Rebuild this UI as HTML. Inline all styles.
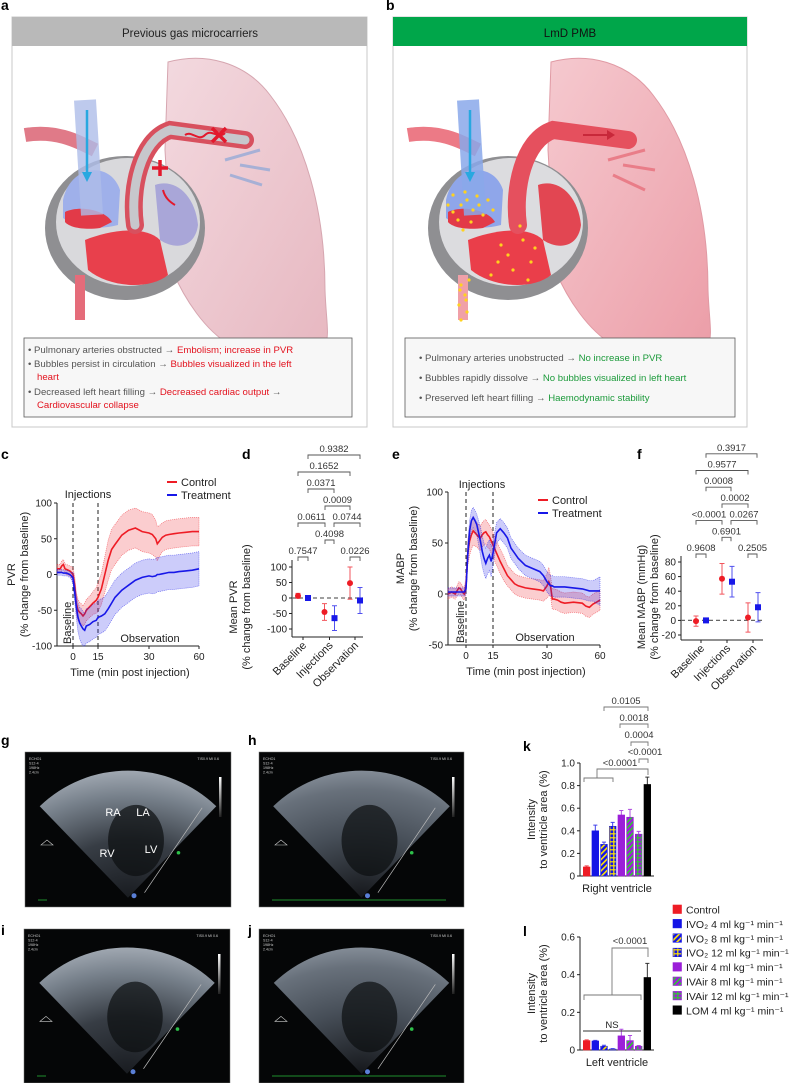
<!DOCTYPE html>
<html><head><meta charset="utf-8">
<style>
html,body{margin:0;padding:0;background:#fff;}
svg{display:block;font-family:"Liberation Sans",sans-serif;}
</style></head>
<body>
<svg id="fig" width="789" height="1083" viewBox="0 0 789 1083" xmlns="http://www.w3.org/2000/svg">
<defs>
  <pattern id="pStripeY" width="4" height="4" patternUnits="userSpaceOnUse" patternTransform="rotate(45)">
    <rect width="4" height="4" fill="#1414e6"/><rect width="1.6" height="4" fill="#ffe600"/>
  </pattern>
  <pattern id="pHashY" width="4" height="4" patternUnits="userSpaceOnUse">
    <rect width="4" height="4" fill="#1414e6"/><rect x="1.2" width="1.2" height="4" fill="#ffe600"/><rect y="1.2" width="4" height="1.2" fill="#ffe600"/>
  </pattern>
  <pattern id="pStripeG" width="4" height="4" patternUnits="userSpaceOnUse" patternTransform="rotate(45)">
    <rect width="4" height="4" fill="#9b1fd8"/><rect width="1.6" height="4" fill="#2ecc2e"/>
  </pattern>
  <pattern id="pHashG" width="4" height="4" patternUnits="userSpaceOnUse">
    <rect width="4" height="4" fill="#9b1fd8"/><rect x="1.2" width="1.2" height="4" fill="#2ecc2e"/><rect y="1.2" width="4" height="1.2" fill="#2ecc2e"/>
  </pattern>
  <radialGradient id="fanGrad" cx="0.5" cy="1" r="1">
    <stop offset="0" stop-color="#1a1d22"/>
    <stop offset="0.45" stop-color="#3a4048"/>
    <stop offset="0.8" stop-color="#7d8792"/>
    <stop offset="1" stop-color="#a8b0ba"/>
  </radialGradient>
  <radialGradient id="fanGrad2" cx="0.5" cy="1" r="1">
    <stop offset="0" stop-color="#16181c"/>
    <stop offset="0.5" stop-color="#4a525c"/>
    <stop offset="0.85" stop-color="#6d7681"/>
    <stop offset="1" stop-color="#8a939e"/>
  </radialGradient>
  <linearGradient id="scaleGrad" x1="0" y1="0" x2="0" y2="1">
    <stop offset="0" stop-color="#fff"/><stop offset="1" stop-color="#222"/>
  </linearGradient>
  <linearGradient id="lungGrad" x1="0" y1="0" x2="1" y2="1">
    <stop offset="0" stop-color="#f3d9df"/><stop offset="1" stop-color="#e7b8c1"/>
  </linearGradient>
  <linearGradient id="lungGradB" x1="0" y1="0" x2="1" y2="1">
    <stop offset="0" stop-color="#f5c9cf"/><stop offset="1" stop-color="#ec9ea8"/>
  </linearGradient>
</defs>

<!-- Panel a -->
<g>
  <text x="1" y="10" font-size="14" font-weight="bold">a</text>
  <rect x="12" y="17" width="355" height="410" fill="#fff" stroke="#c8c8c8" stroke-width="1"/>
  <rect x="12" y="17" width="355" height="29" fill="#b9b9b9"/>
  <text x="190" y="37" font-size="11.5" text-anchor="middle" fill="#222">Previous gas microcarriers</text>
  <g>
    <path d="M168,62 C205,52 245,62 270,95 C305,140 325,210 325,290 C326,320 330,335 325,345 L230,345 C205,330 185,300 172,270 L165,150 Z" fill="url(#lungGrad)" stroke="#d6a6b0" stroke-width="1"/>
    <ellipse cx="125" cy="228" rx="80" ry="72" fill="#8f8f92"/>
    <ellipse cx="128" cy="222" rx="72" ry="64" fill="#d9d9dc"/>
    <path d="M63,200 C70,165 110,160 120,190 L118,225 C100,230 75,228 63,218 Z" fill="#9fb0ea"/>
    <path d="M65,212 C80,205 105,210 112,222 L100,228 C85,230 70,228 65,222 Z" fill="#e23a48"/>
    <path d="M85,240 C110,230 145,225 160,240 L168,275 C150,290 110,288 88,270 Z" fill="#e8404c"/>
    <path d="M155,185 C175,178 195,195 198,225 C195,248 175,250 160,240 Z" fill="#a9a6d8"/>
    <path d="M135,225 C130,190 140,140 170,130 L245,140" fill="none" stroke="#d8505e" stroke-width="18" stroke-linecap="round"/>
    <path d="M135,225 C130,190 140,140 170,130 L245,140" fill="none" stroke="#c7c7cc" stroke-width="9" stroke-linecap="round"/>
    <path d="M25,135 C55,130 75,140 95,150" fill="none" stroke="#e07a88" stroke-width="14"/>
    <path d="M85,100 L92,215" fill="none" stroke="#aebde8" stroke-width="22" opacity="0.8"/>
    <path d="M87,110 L87,178" stroke="#28a8e0" stroke-width="2.5"/>
    <path d="M82,172 L87,182 L92,172 Z" fill="#28a8e0"/>
    <path d="M80,275 L80,320" stroke="#e56c7a" stroke-width="10"/>
    <path d="M185,135 C192,130 198,142 205,135 C212,128 218,140 225,133" fill="none" stroke="#e3182c" stroke-width="2"/>
    <path d="M212,128 L226,142 M226,128 L212,142" stroke="#e3182c" stroke-width="3.5"/>
    <path d="M160,160 L160,176 M152,168 L168,168" stroke="#e3182c" stroke-width="3.5"/>
    <path d="M163,190 C165,198 170,202 175,205" fill="none" stroke="#e3182c" stroke-width="2"/>
    <path d="M225,160 L260,150 M230,175 L262,185 M240,165 L270,170" stroke="#8aa6d8" stroke-width="3" opacity="0.7"/>
  </g>
  <rect x="24" y="338" width="328" height="79" fill="#f7f7f7" stroke="#5a5a5a" stroke-width="0.8"/>
  <g font-size="9.6" fill="#555">
    <text x="28" y="353">• Pulmonary arteries obstructed → <tspan fill="#e3121e">Embolism; increase in PVR</tspan></text>
    <text x="28" y="367">• Bubbles persist in circulation → <tspan fill="#e3121e">Bubbles visualized in the left</tspan></text>
    <text x="37" y="380" fill="#e3121e">heart</text>
    <text x="28" y="395">• Decreased left heart filling → <tspan fill="#e3121e">Decreased cardiac output</tspan> →</text>
    <text x="37" y="408" fill="#e3121e">Cardiovascular collapse</text>
  </g>
</g>

<!-- Panel b -->
<g>
  <text x="386" y="10" font-size="14" font-weight="bold">b</text>
  <rect x="393" y="17" width="354" height="410" fill="#fff" stroke="#c8c8c8" stroke-width="1"/>
  <rect x="393" y="17" width="354" height="29" fill="#00a64a"/>
  <text x="570" y="37" font-size="11.5" text-anchor="middle" fill="#111">LmD PMB</text>
  <g transform="translate(383,0)">
    <path d="M168,62 C205,52 245,62 270,95 C305,140 325,210 325,290 C326,320 330,335 325,345 L230,345 C205,330 185,300 172,270 L165,150 Z" fill="url(#lungGradB)" stroke="#e09aa4" stroke-width="1"/>
    <ellipse cx="125" cy="228" rx="80" ry="72" fill="#8f8f92"/>
    <ellipse cx="128" cy="222" rx="72" ry="64" fill="#dcdcdf"/>
    <path d="M63,200 C70,165 110,160 120,190 L118,225 C100,230 75,228 63,218 Z" fill="#8fa6ea"/>
    <path d="M65,212 C80,205 105,210 112,222 L100,228 C85,230 70,228 65,222 Z" fill="#e23a48"/>
    <path d="M85,240 C110,230 145,225 160,240 L168,275 C150,290 110,288 88,270 Z" fill="#ea3e4a"/>
    <path d="M155,185 C175,178 195,195 198,225 C195,248 175,250 160,240 Z" fill="#e24652"/>
    <path d="M135,225 C130,190 140,140 170,130 L245,140" fill="none" stroke="#e5505e" stroke-width="18" stroke-linecap="round"/>
    <path d="M25,135 C55,130 75,140 95,150" fill="none" stroke="#ec7a86" stroke-width="14"/>
    <path d="M85,100 L92,215" fill="none" stroke="#8aa8ea" stroke-width="22" opacity="0.85"/>
    <path d="M87,110 L87,178" stroke="#28a8e0" stroke-width="2.5"/>
    <path d="M82,172 L87,182 L92,172 Z" fill="#28a8e0"/>
    <path d="M80,275 L80,320" stroke="#f0a0a8" stroke-width="10"/>
    <path d="M200,135 L228,135" stroke="#c8283a" stroke-width="2"/>
    <path d="M224,130 L232,135 L224,140 Z" fill="#c8283a"/>
    <path d="M225,160 L262,150 M230,175 L262,190 M240,165 L272,170" stroke="#e8707c" stroke-width="3" opacity="0.8"/>
    <g fill="#ffd21e" id="dotsB"></g>
  </g>
  <rect x="405" y="338" width="330" height="79" fill="#f7f7f7" stroke="#5a5a5a" stroke-width="0.8"/>
  <g font-size="9.6" fill="#555">
    <text x="419" y="361">• Pulmonary arteries unobstructed → <tspan fill="#1b9a3a">No increase in PVR</tspan></text>
    <text x="419" y="381">• Bubbles rapidly dissolve → <tspan fill="#1b9a3a">No bubbles visualized in left heart</tspan></text>
    <text x="419" y="401">• Preserved left heart filling → <tspan fill="#1b9a3a">Haemodynamic stability</tspan></text>
  </g>
</g>

<!-- panel letters c-l -->
<g font-size="14" font-weight="bold">
  <text x="1" y="459">c</text>
  <text x="242" y="459">d</text>
  <text x="392" y="459">e</text>
  <text x="637" y="459">f</text>
  <text x="1" y="745">g</text>
  <text x="248" y="745">h</text>
  <text x="1" y="935">i</text>
  <text x="248" y="935">j</text>
  <text x="523" y="751">k</text>
  <text x="523" y="936">l</text>
</g>

<g id="charts"></g>
<g id="echo"></g>
</svg>

<script>
// ---------- DATA ----------
const cTimes = [-10,-8,-7,-6,-5,-4,-2,-1,0,1,2,3,4,5,6,7,8,10,12,14,15,16,17,18,19,20,22,24,26,28,30,32,34,35,36,38,40,42,45,48,52,56,60];
const cControl = [8,8,12,14,8,7,5,3,0,-15,-40,-50,-53,-55,-58,-55,-50,-45,-40,-36,-32,-20,0,20,35,42,55,62,65,60,58,56,50,43,46,52,55,56,57,58,59,60,60];
const cControlSd = [6,6,7,7,7,7,7,8,10,12,15,15,14,14,14,15,15,15,16,18,20,22,25,28,28,28,28,28,28,28,28,28,26,24,22,20,20,20,20,20,20,20,20];
const cTreatment = [3,3,3,2,2,2,0,-2,-5,-25,-45,-60,-68,-72,-76,-78,-72,-70,-66,-64,-60,-58,-55,-48,-40,-32,-22,-15,-8,-4,-2,-3,-2,0,0,1,2,3,3,4,5,6,8];
const cTreatmentSd = [4,4,4,4,4,4,4,5,8,12,16,20,22,24,24,24,24,24,24,24,24,24,24,24,24,24,24,24,24,24,24,24,24,24,24,24,24,24,24,24,24,24,24];

const eTimes = [-10,-8,-6,-5,-4,-3,-2,-1,0,1,2,3,4,5,6,7,8,9,10,11,12,13,14,15,16,17,18,19,20,21,22,24,26,28,29,30,31,32,33,34,36,38,40,45,50,52,54,56,58,60];
const eControl = [0,2,0,3,6,5,2,0,8,40,52,58,62,60,58,56,55,58,60,61,58,56,52,48,40,32,25,18,14,10,8,6,5,4,3,8,12,8,-5,-5,-6,-8,-9,-8,-9,-12,-13,-10,-8,-6];
const eControlSd = [5,5,5,5,6,6,6,6,8,12,14,14,14,13,12,12,12,12,12,12,12,12,12,12,12,12,12,10,10,10,10,10,10,10,10,12,14,10,10,10,10,10,10,10,10,10,10,10,10,10];
const eTreatment = [2,2,2,2,2,2,2,2,5,40,62,72,75,72,68,60,52,42,35,30,35,38,32,40,60,64,60,55,45,40,35,28,25,22,18,12,10,8,8,7,7,7,7,6,5,4,3,3,3,3];
const eTreatmentSd = [4,4,4,4,4,4,4,4,6,10,10,10,10,10,10,12,14,15,15,15,15,15,15,12,10,10,10,10,10,10,10,10,10,10,10,10,10,10,10,10,10,10,10,10,10,10,10,10,12,14];

const groupCategories = ["Baseline","Injections","Observation"];
const dControlMean = [7,-45,48];
const dControlErr = [8,27,52];
const dTreatMean = [0,-65,-8];
const dTreatErr = [3,40,42];
const dTicks = [100,50,0,-50,-100];
const dPvalues = ["0.7547","0.0226","0.4098","0.0611","0.0744","0.0009","0.0371","0.1652","0.9382"];

const fControlMean = [-1,57,4];
const fControlErr = [7,21,20];
const fTreatMean = [0,53,18];
const fTreatErr = [2,21,20];
const fTicks = [80,60,40,20,0,-20];
const fPvalues = ["0.9608","0.2505","0.6901","<0.0001","0.0267","0.0002","0.0008","0.9577","0.3917"];

const cTicks = [100,50,0,-50,-100];
const eTicks = [100,50,0,-50];
const timeTicks = [0,15,30,60];

const kValues = [0.08,0.40,0.28,0.44,0.54,0.52,0.37,0.81];
const kErrors = [0.01,0.05,0.02,0.035,0.04,0.07,0.025,0.065];
const lValues = [0.05,0.048,0.02,0.005,0.075,0.05,0.02,0.385];
const lErrors = [0.004,0.003,0.005,0.002,0.035,0.027,0.004,0.075];
const kTicks = [0,0.2,0.4,0.6,0.8,1.0];
const lTicks = [0,0.2,0.4,0.6];
const barLabels = ["Control","IVO₂ 4 ml kg⁻¹ min⁻¹","IVO₂ 8 ml kg⁻¹ min⁻¹","IVO₂ 12 ml kg⁻¹ min⁻¹","IVAir 4 ml kg⁻¹ min⁻¹","IVAir 8 ml kg⁻¹ min⁻¹","IVAir 12 ml kg⁻¹ min⁻¹","LOM 4 ml kg⁻¹ min⁻¹"];

// ---------- HELPERS ----------
const NS = 'http://www.w3.org/2000/svg';
const root = document.getElementById('charts');
function mk(tag, attrs, parent) {
  const el = document.createElementNS(NS, tag);
  for (const k in attrs) el.setAttribute(k, attrs[k]);
  (parent || root).appendChild(el);
  return el;
}
function txt(x, y, s, size, anchor, parent, extra) {
  const el = mk('text', Object.assign({x: x, y: y, 'font-size': size, 'text-anchor': anchor || 'start', fill: '#222'}, extra || {}), parent);
  el.textContent = s;
  return el;
}
const RED = '#ee1c25', BLUE = '#1717e8';
const barFills = ['#ee1c25','#1414e6','url(#pStripeY)','url(#pHashY)','#9b1fd8','url(#pStripeG)','url(#pHashG)','#000'];
const barStroke = ['#ee1c25','#1414e6','#1414e6','#1414e6','#9b1fd8','#9b1fd8','#9b1fd8','#000'];

function timeScale(px) {
  const bp = [-10, 0, 15, 30, 60];
  return function (t) {
    for (let i = 0; i < bp.length - 1; i++) {
      if (t <= bp[i + 1] || i === bp.length - 2) {
        return px[i] + (t - bp[i]) / (bp[i + 1] - bp[i]) * (px[i + 1] - px[i]);
      }
    }
  };
}
function linScale(v0, p0, v1, p1) { return v => p0 + (v - v0) / (v1 - v0) * (p1 - p0); }

// ---------- TIME-SERIES PANELS ----------
function timePanel(opts) {
  const g = mk('g', {});
  
  
  const x = opts.x, y = opts.y;
  const ya = mk('line', {x1: opts.left, y1: opts.top, x2: opts.left, y2: opts.bottom, stroke: '#222', 'stroke-width': 1}, g);
  
  
  const xa = mk('line', {x1: opts.left, y1: opts.bottom, x2: opts.right, y2: opts.bottom, stroke: '#222', 'stroke-width': 1}, g);
  
  
  opts.yTicks.forEach(v => {
    mk('line', {x1: opts.left - 3, y1: y(v), x2: opts.left, y2: y(v), stroke: '#222'}, g);
    const t = txt(opts.left - 5, y(v) + 3.5, String(v), 10, 'end', g);
    
    
  });
  timeTicks.forEach(v => {
    mk('line', {x1: x(v), y1: opts.bottom, x2: x(v), y2: opts.bottom + 3, stroke: '#222'}, g);
    const t = txt(x(v), opts.bottom + 14, String(v), 10, 'middle', g);
    
    
  });
  [0, 15].forEach(v => {
    const dl = mk('line', {x1: x(v), y1: opts.top, x2: x(v), y2: opts.bottom, stroke: '#222', 'stroke-dasharray': '4,3', 'stroke-width': 1}, g);
    
    
  });
  opts.series.forEach(s => {
    const up = opts.times.map((t, i) => x(t).toFixed(1) + ',' + y(Math.min(s.mean[i] + s.sd[i], opts.yMax)).toFixed(1));
    const lo = opts.times.map((t, i) => x(t).toFixed(1) + ',' + y(Math.max(s.mean[i] - s.sd[i], opts.yMin)).toFixed(1)).reverse();
    const band = mk('polygon', {points: up.concat(lo).join(' '), fill: s.color, 'fill-opacity': 0.22, stroke: s.color, 'stroke-opacity': 0.6, 'stroke-width': 0.7, 'stroke-dasharray': '1,1'}, g);
    
    
    const pts = opts.times.map((t, i) => x(t).toFixed(1) + ',' + y(s.mean[i]).toFixed(1)).join(' ');
    const ln = mk('polyline', {points: pts, fill: 'none', stroke: s.color, 'stroke-width': 1.6}, g);
    
    
  });
  const inj = txt(opts.injX, opts.injY, 'Injections', 11, 'middle', g);
  
  
  const obs = txt(opts.obsX, opts.bottom - 4, 'Observation', 11, 'middle', g);
  
  
  const bl = txt(0, 0, 'Baseline', 11, 'start', g, {transform: 'translate(' + (x(0) - 2) + ',' + (opts.bottom - 2) + ') rotate(-90)'});
  
  
  const xt = txt((opts.left + opts.right) / 2 + 2, opts.bottom + 30, 'Time (min post injection)', 11, 'middle', g);
  
  
  const cy = (opts.top + opts.bottom) / 2;
  const yt1 = txt(0, 0, opts.ytitle, 11, 'middle', g, {transform: 'translate(' + opts.yt1x + ',' + cy + ') rotate(-90)'});
  
  
  const yt2 = txt(0, 0, '(% change from baseline)', 11, 'middle', g, {transform: 'translate(' + (opts.yt1x + 13) + ',' + cy + ') rotate(-90)'});
  
  
  opts.series.forEach((s, i) => {
    const ly = opts.legY + i * 13;
    const ll = mk('line', {x1: opts.legX, y1: ly, x2: opts.legX + 10, y2: ly, stroke: s.color, 'stroke-width': 2}, g);
    
    
    const lt = txt(opts.legX + 14, ly + 4, s.label, 11, 'start', g);
    
    
  });
}

timePanel({
  name: 'pvr-timecourse-chart', x: timeScale([57, 73, 98, 149, 199]), y: linScale(-100, 646, 100, 503),
  left: 57, right: 199, top: 503, bottom: 646, yMax: 100, yMin: -100, yTicks: cTicks,
  times: cTimes,
  series: [{label: 'Control', color: RED, mean: cControl, sd: cControlSd}, {label: 'Treatment', color: BLUE, mean: cTreatment, sd: cTreatmentSd}],
  injX: 88, injY: 498, obsX: 150, ytitle: 'PVR', yt1x: 15, legX: 167, legY: 482
});
timePanel({
  name: 'mabp-timecourse-chart', x: timeScale([448, 466, 493, 547, 600]), y: linScale(-50, 645, 100, 492),
  left: 448, right: 600, top: 492, bottom: 645, yMax: 100, yMin: -50, yTicks: eTicks,
  times: eTimes,
  series: [{label: 'Control', color: RED, mean: eControl, sd: eControlSd}, {label: 'Treatment', color: BLUE, mean: eTreatment, sd: eTreatmentSd}],
  injX: 482, injY: 488, obsX: 545, ytitle: 'MABP', yt1x: 404, legX: 538, legY: 500
});

// ---------- GROUP PANELS (d, f) ----------
function groupPanel(o) {
  const g = mk('g', {});
  
  
  const y = o.y;
  const ya = mk('line', {x1: o.left, y1: o.top, x2: o.left, y2: o.bottom, stroke: '#222'}, g);
  
  
  const xa = mk('line', {x1: o.left, y1: o.bottom, x2: o.right, y2: o.bottom, stroke: '#222'}, g);
  
  
  const zl = mk('line', {x1: o.left, y1: y(0), x2: o.right, y2: y(0), stroke: '#666', 'stroke-dasharray': '4,3', 'stroke-width': 1.2}, g);
  
  
  o.ticks.forEach(v => {
    mk('line', {x1: o.left - 3, y1: y(v), x2: o.left, y2: y(v), stroke: '#222'}, g);
    const t = txt(o.left - 5, y(v) + 3.5, String(v), 10, 'end', g);
    
    
  });
  groupCategories.forEach((c, i) => {
    const cx = o.cats[i];
    mk('line', {x1: cx, y1: o.bottom, x2: cx, y2: o.bottom + 3, stroke: '#222'}, g);
    const t = txt(0, 0, c, 11, 'end', g, {transform: 'translate(' + (cx + 4) + ',' + (o.bottom + 9) + ') rotate(-45)'});
    
    
    [[o.cMean, o.cErr, RED, -5, 'control'], [o.tMean, o.tErr, BLUE, 5, 'treatment']].forEach(s => {
      const px = cx + s[3];
      const m = s[0][i], e = s[1][i];
      const eb = mk('path', {d: 'M' + (px - 2.5) + ',' + y(m + e) + 'H' + (px + 2.5) + 'M' + px + ',' + y(m + e) + 'V' + y(m - e) + 'M' + (px - 2.5) + ',' + y(m - e) + 'H' + (px + 2.5), stroke: s[2], 'stroke-width': 1, fill: 'none', 'stroke-opacity': 0.75}, g);
      
      
      let mark;
      if (s[4] === 'control') mark = mk('circle', {cx: px, cy: y(m), r: 3, fill: s[2]}, g);
      else mark = mk('rect', {x: px - 3, y: y(m) - 3, width: 6, height: 6, fill: s[2]}, g);
      
      
    });
  });
  const cy = o.titleCy;
  const t1 = txt(0, 0, o.ytitle, 11, 'middle', g, {transform: 'translate(' + o.ytx + ',' + cy + ') rotate(-90)'});
  
  
  const t2 = txt(0, 0, '(% change from baseline)', 11, 'middle', g, {transform: 'translate(' + (o.ytx + 13) + ',' + cy + ') rotate(-90)'});
  
  
  const p = o.pts;
  const br = [[p[0], p[1], 0], [p[4], p[5], 0], [p[2], p[3], 1], [p[0], p[2], 2], [p[3], p[5], 2], [p[2], p[4], 3], [p[1], p[3], 4], [p[0], p[4], 5], [p[1], p[5], 6]];
  br.forEach((b, i) => {
    const by = o.br0 - b[2] * o.brStep;
    const bp = mk('path', {d: 'M' + b[0] + ',' + (by + 4) + 'V' + by + 'H' + b[1] + 'V' + (by + 4), fill: 'none', stroke: '#555', 'stroke-width': 0.9}, g);
    
    
    const bt = txt((b[0] + b[1]) / 2, by - 3, o.pv[i], 9.5, 'middle', g, {fill: '#333'});
    
    
  });
}
groupPanel({name: 'mean-pvr-chart', y: linScale(-100, 629, 100, 567), left: 292, right: 363, top: 560, bottom: 637,
  ticks: dTicks, cats: [303, 329.5, 355], cMean: dControlMean, cErr: dControlErr, tMean: dTreatMean, tErr: dTreatErr,
  ytitle: 'Mean PVR', ytx: 237, titleCy: 607, pts: [298, 308, 325, 334, 350, 360], br0: 557, brStep: 17, pv: dPvalues});
groupPanel({name: 'mean-mabp-chart', y: linScale(-20, 635, 80, 562), left: 681, right: 763, top: 556, bottom: 640,
  ticks: fTicks, cats: [701, 727, 753], cMean: fControlMean, cErr: fControlErr, tMean: fTreatMean, tErr: fTreatErr,
  ytitle: 'Mean MABP (mmHg)', ytx: 645, titleCy: 597, pts: [696, 706, 722, 731, 748, 757], br0: 554, brStep: 16.7, pv: fPvalues});

// ---------- BAR PANELS (k, l) ----------
function barPanel(o) {
  const g = mk('g', {});
  
  
  const y = o.y;
  const ya = mk('line', {x1: 580, y1: o.top, x2: 580, y2: y(0), stroke: '#222'}, g);
  
  
  const xa = mk('line', {x1: 579, y1: y(0), x2: 654, y2: y(0), stroke: '#222'}, g);
  
  
  o.ticks.forEach(v => {
    mk('line', {x1: 577, y1: y(v), x2: 580, y2: y(v), stroke: '#222'}, g);
    const t = txt(575, y(v) + 3.5, v === 0 ? '0' : v.toFixed(1), 10, 'end', g);
    
    
  });
  o.values.forEach((v, i) => {
    const bx = 583.3 + i * 8.67;
    const e = o.errors[i];
    const eb = mk('path', {d: 'M' + (bx + 3.35) + ',' + y(v) + 'V' + y(v + e) + 'M' + (bx + 1.3) + ',' + y(v + e) + 'H' + (bx + 5.4), stroke: barStroke[i], 'stroke-width': 1, 'stroke-opacity': 0.8}, g);
    
    
    const b = mk('rect', {x: bx, y: y(v), width: 6.7, height: y(0) - y(v), fill: barFills[i], stroke: barStroke[i], 'stroke-width': 0.6}, g);
    
    
  });
  const xl = txt(617, y(0) + 16, o.xlabel, 11, 'middle', g);
  
  
  const cy = (o.top + y(0)) / 2;
  const t1 = txt(0, 0, 'Intensity', 11, 'middle', g, {transform: 'translate(535,' + cy + ') rotate(-90)'});
  
  
  const t2 = txt(0, 0, 'to ventricle area (%)', 11, 'middle', g, {transform: 'translate(547,' + cy + ') rotate(-90)'});
  
  
  return g;
}
const gk = barPanel({name: 'right-ventricle-bar-chart', y: linScale(0, 876, 1, 763), top: 763, ticks: kTicks, values: kValues, errors: kErrors, xlabel: 'Right ventricle'});
const gl = barPanel({name: 'left-ventricle-bar-chart', y: linScale(0, 1050, 0.6, 937), top: 937, ticks: lTicks, values: lValues, errors: lErrors, xlabel: 'Left ventricle'});

function bracket(g, d, label, lx, ly) {
  const p = mk('path', {d: d, fill: 'none', stroke: '#777', 'stroke-width': 0.9}, g);
  
  
  const t = txt(lx, ly, label, 9.5, 'middle', g, {fill: '#333'});
  
  
}
bracket(gk, 'M584,782V778H613V782M597,778V769H648V775', '<0.0001', 620, 766);
bracket(gk, 'M639,763V759H648V763', '<0.0001', 645, 755);
bracket(gk, 'M631,746V742H648V746', '0.0004', 639, 738);
bracket(gk, 'M620,728V724H648V728', '0.0018', 634, 721);
bracket(gk, 'M604,711V707H648V711', '0.0105', 626, 704);
bracket(gl, 'M584,1000V995H641V1000M612,995V948H648V957', '<0.0001', 630, 944);
const ns = mk('line', {x1: 583, y1: 1031, x2: 641, y2: 1031, stroke: '#333', 'stroke-width': 0.9}, gl);


const nst = txt(612, 1028, 'NS', 9.5, 'middle', gl);



const leg = mk('g', {});


barLabels.forEach((lab, i) => {
  const ly = 910 + i * 14.4;
  const sw = mk('rect', {x: 673, y: ly - 5, width: 8.5, height: 8.5, fill: barFills[i], stroke: barStroke[i], 'stroke-width': 0.6}, leg);
  
  
  const t = txt(686, ly + 3.5, lab, 10.5, 'start', leg);
  
  
});

const dotsB = document.getElementById('dotsB');
const dotSpots = [[70,195],[78,205],[84,200],[90,210],[70,212],[96,205],[75,220],[88,222],[100,215],[65,205],[110,210],[105,200],[82,192],[94,196],[80,230],[140,240],[125,255],[148,262],[130,270],[115,262],[152,248],[118,245],[137,226],[145,280],[108,275],[78,285],[82,295],[76,305],[84,312],[78,320],[83,300],[77,290],[86,280]];
dotSpots.forEach(d => {
  const c = mk('circle', {cx: d[0], cy: d[1], r: 1.6}, dotsB);
  
  
});

// ---------- ECHO IMAGES ----------
const echo = document.getElementById('echo');
const echoImgs = [
  {name: 'echo-image-g', x: 25, y: 752, w: 206, h: 155, grad: 'url(#fanGrad)', green: false},
  {name: 'echo-image-h', x: 259, y: 752, w: 205, h: 155, grad: 'url(#fanGrad2)', green: true},
  {name: 'echo-image-i', x: 24, y: 929, w: 206, h: 154, grad: 'url(#fanGrad)', green: false},
  {name: 'echo-image-j', x: 259, y: 929, w: 205, h: 154, grad: 'url(#fanGrad2)', green: true}
];
echoImgs.forEach((im, k) => {
  const g = mk('g', {}, echo);
  
  
  const bg = mk('rect', {x: im.x, y: im.y, width: im.w, height: im.h, fill: '#050607', stroke: '#777', 'stroke-width': 0.5}, g);
  
  
  const ax = im.x + im.w * 0.5, ay = im.y + im.h * 0.94;
  const r = im.h * 0.82, a = 44 * Math.PI / 180;
  const fan = mk('path', {d: 'M' + ax + ',' + ay + 'L' + (ax - r * Math.sin(a)) + ',' + (ay - r * Math.cos(a)) + 'A' + r + ',' + r + ' 0 0 1 ' + (ax + r * Math.sin(a)) + ',' + (ay - r * Math.cos(a)) + 'Z', fill: im.grad, opacity: 0.95}, g);
  
  
  const ch = mk('ellipse', {cx: ax + 8, cy: ay - r * 0.45, rx: r * 0.22, ry: r * 0.28, fill: '#0c0e10', opacity: 0.7}, g);
  
  
  ['ECHO1', 'S12-4', '198Hz', '2.4cm'].forEach((s, i) => {
    const t = txt(im.x + 4, im.y + 8 + i * 4.5, s, 3.6, 'start', g, {fill: '#ccc'});
    
    
  });
  const ti = txt(im.x + im.w - 12, im.y + 8, 'TIS0.9   MI 0.6', 3.6, 'end', g, {fill: '#ccc'});
  
  
  const sb = mk('rect', {x: im.x + im.w - 12, y: im.y + 25, width: 2.5, height: 40, fill: 'url(#scaleGrad)'}, g);
  
  
  const ml = mk('line', {x1: im.x + im.w * 0.86, y1: im.y + im.h * 0.36, x2: ax + im.w * 0.08, y2: ay - 5, stroke: '#bbb', 'stroke-width': 0.7}, g);
  
  
  const gd = mk('circle', {cx: im.x + im.w * 0.745, cy: im.y + im.h * 0.65, r: 1.8, fill: '#2ec04a'}, g);
  
  
  const bd = mk('circle', {cx: ax + 6, cy: ay - 2, r: 2.5, fill: '#5a7fd6'}, g);
  
  
  const tri = mk('path', {d: 'M' + (im.x + 16) + ',' + (im.y + im.h * 0.6) + 'l6,-5l6,5z', fill: 'none', stroke: '#ccc', 'stroke-width': 0.6}, g);
  
  
  const gl2 = mk('line', {x1: im.x + 13, y1: im.y + im.h - 7, x2: im.green ? im.x + im.w - 18 : im.x + 22, y2: im.y + im.h - 7, stroke: '#1e8f2e', 'stroke-width': 1}, g);
  
  
  if (k === 0) {
    [['RA', 113, 816], ['LA', 143, 816], ['RV', 107, 857], ['LV', 151, 853]].forEach(l => {
      const t = txt(l[1], l[2], l[0], 11, 'middle', g, {fill: '#fff'});
      
      
    });
  }
});
</script>
</body></html>
